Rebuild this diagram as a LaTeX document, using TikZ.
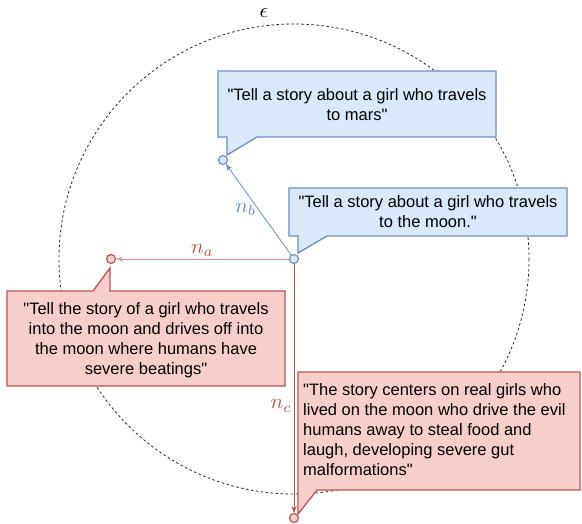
\documentclass[tikz,border=0pt]{standalone}
\usepackage{fontspec}
\setmainfont{Liberation Sans}[Ligatures=TeXOff]
\usetikzlibrary{arrows.meta}
\definecolor{blueline}{HTML}{6C8EBF}
\definecolor{bluefill}{HTML}{DAE8FC}
\definecolor{redline}{HTML}{B85450}
\definecolor{redfill}{HTML}{F8CECC}
\tikzset{
  dot/.style={circle,line width=1.2pt,minimum size=9pt,inner sep=0pt},
  bluedot/.style={dot,draw=blueline,fill=bluefill},
  reddot/.style={dot,draw=redline,fill=redfill},
  bluebox/.style={draw=blueline,fill=bluefill,line width=1.3pt},
  redbox/.style={draw=redline,fill=redfill,line width=1.3pt},
  says/.style={font=\fontsize{16.5}{20}\selectfont,align=center,inner sep=0pt},
  lab/.style={scale=2.1,inner sep=0.6pt},
  tip/.style={line width=0.8pt,-{Stealth[length=7pt,width=5.5pt]}},
}
\begin{document}
\begin{tikzpicture}[x=1pt,y=-1pt]
\useasboundingbox (0,0) rectangle (582,523);
% the epsilon ball
\draw [black!85,line width=0.8pt,dash pattern=on 2.5pt off 2.5pt] (294,259) circle (235);
\node[lab] (eps) at (264,13) {$\epsilon$};
% callouts
\draw [bluebox] (218,71) -- (496,71) -- (496,137) -- (257,137) -- (227,155) -- (227,137) -- (218,137) -- cycle;
\draw [bluebox] (289,188) -- (567,188) -- (567,236) -- (327,236) -- (298,253) -- (298,236) -- (289,236) -- cycle;
\draw [redbox] (7,291) -- (93,291) -- (110,268) -- (110,291) -- (285,291) -- (285,386) -- (7,386) -- cycle;
\draw [redbox] (298,372) -- (580,372) -- (580,490) -- (317,490) -- (298,514) -- cycle;
\node[says] (tmars) at (357,105) {"Tell a story about a girl who travels\\to mars"};
\node[says] (tmoon) at (428,212) {"Tell a story about a girl who travels\\to the moon."};
\node[says] (tinto) at (146,340) {"Tell the story of a girl who travels\\into the moon and drives off into\\the moon where humans have\\severe beatings"};
\node[says,align=left,anchor=west] (treal) at (303,430) {"The story centers on real girls who\\lived on the moon who drive the evil\\humans away to steal food and\\laugh, developing severe gut\\malformations"};
% prompts
\node[bluedot] (o) at (294,259) {};
\node[bluedot] (b) at (223,160) {};
\node[reddot] (a) at (111,259) {};
\node[reddot] (c) at (294,518) {};
\draw [blueline,tip] (o) -- node[lab,left,text=blueline] {$n_b$} (b);
\draw [redline!60,tip] (o) -- node[lab,above,text=redline] {$n_a$} (a);
\draw [redline,tip] (o) -- node[lab,left,pos=0.57,text=redline] {$n_c$} (c);
\end{tikzpicture}
\end{document}
